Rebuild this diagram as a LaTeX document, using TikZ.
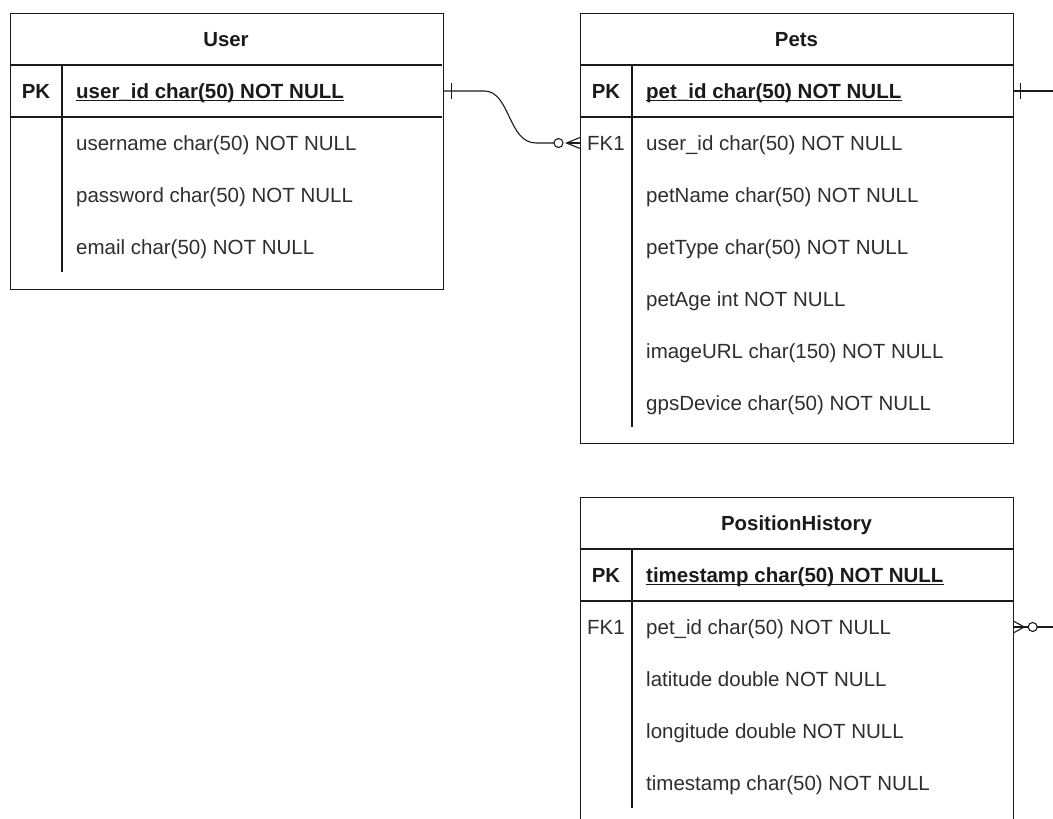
\documentclass[tikz,border=0pt]{standalone}
\usepackage{fontspec}
\setmainfont{Liberation Sans}
\usetikzlibrary{calc}
\definecolor{ink}{HTML}{1A1A1A}
\definecolor{soft}{HTML}{2E2E2E}
\begin{document}
\begin{tikzpicture}[x=1pt,y=-1pt,
  tablebox/.style={draw=ink, line width=1.2pt, anchor=north west, inner sep=0pt,
                   minimum width=433pt},
  rule/.style={draw=ink, line width=1.2pt},
  conn/.style={draw=ink, line width=1.1pt},
  txt/.style={inner sep=0pt, text height=14.7pt, text depth=0pt,
              font=\fontsize{20.5}{24}\selectfont},
  title/.style={txt, text=ink, font=\fontsize{20.4}{24}\selectfont\bfseries},
  keytxt/.style={txt, text=ink, font=\fontsize{20.4}{24}\selectfont\bfseries},
  fktxt/.style={txt, text=soft},
  pktxt/.style={txt, anchor=west, text=ink, font=\fontsize{20.5}{24}\selectfont\bfseries},
  fieldtxt/.style={txt, anchor=west, text=soft},
  uline/.style={draw=ink, line width=1.2pt}]

\clip (0,0) rectangle (1053,819);

% ---------------- User ----------------
\node[tablebox, minimum height=276pt] (user) at (10,13) {};
\draw[rule] (10,65) -- (442,65);
\draw[rule] (10,117) -- (442,117);
\draw[rule] (62,65) -- (62,272);
\node[title] (userT) at (226,39) {User};
\node[keytxt] (userK) at (36,91) {PK};
\node[pktxt] (upk) at (76,91) {user\_id char(50) NOT NULL};
\draw[uline] ([yshift=-2.2pt]upk.south west) -- ([yshift=-2.2pt]upk.south east);
\node[fieldtxt] (uf1) at (76,143) {username char(50) NOT NULL};
\node[fieldtxt] (uf2) at (76,195) {password char(50) NOT NULL};
\node[fieldtxt] (uf3) at (76,247) {email char(50) NOT NULL};

% ---------------- Pets ----------------
\node[tablebox, minimum height=430pt] (pets) at (580,13) {};
\draw[rule] (580,65) -- (1013,65);
\draw[rule] (580,117) -- (1013,117);
\draw[rule] (632,65) -- (632,427);
\node[title] (petsT) at (796.5,39) {Pets};
\node[keytxt] (petsK) at (606,91) {PK};
\node[fktxt] (petsF) at (606,143) {FK1};
\node[pktxt] (ppk) at (646,91) {pet\_id char(50) NOT NULL};
\draw[uline] ([yshift=-2.2pt]ppk.south west) -- ([yshift=-2.2pt]ppk.south east);
\node[fieldtxt] (pfk) at (646,143) {user\_id char(50) NOT NULL};
\node[fieldtxt] (pf2) at (646,195) {petName char(50) NOT NULL};
\node[fieldtxt] (pf3) at (646,247) {petType char(50) NOT NULL};
\node[fieldtxt] (pf4) at (646,299) {petAge int NOT NULL};
\node[fieldtxt] (pf5) at (646,351) {imageURL char(150) NOT NULL};
\node[fieldtxt] (pf6) at (646,403) {gpsDevice char(50) NOT NULL};

% ---------------- PositionHistory ----------------
\node[tablebox, minimum height=340pt] (hist) at (580,497) {};
\draw[rule] (580,549) -- (1013,549);
\draw[rule] (580,601) -- (1013,601);
\draw[rule] (632,549) -- (632,808);
\node[title] (histT) at (796.5,523) {PositionHistory};
\node[keytxt] (histK) at (606,575) {PK};
\node[fktxt] (histF) at (606,627) {FK1};
\node[pktxt] (hpk) at (646,575) {timestamp char(50) NOT NULL};
\draw[uline] ([yshift=-2.2pt]hpk.south west) -- ([yshift=-2.2pt]hpk.south east);
\node[fieldtxt] (hfk) at (646,627) {pet\_id char(50) NOT NULL};
\node[fieldtxt] (hf2) at (646,679) {latitude double NOT NULL};
\node[fieldtxt] (hf3) at (646,731) {longitude double NOT NULL};
\node[fieldtxt] (hf4) at (646,783) {timestamp char(50) NOT NULL};

% ---------------- User (one) to Pets (zero or many) ----------------
\coordinate (uEnd) at (user.east |- upk.west);
\coordinate (pEnd) at (pets.west |- pfk.west);
\draw[conn] (uEnd) -- ($(uEnd)+(40,0)$)
  .. controls ($(uEnd)+(66,0)$) and ($(pEnd)+(-72,0)$) .. ($(pEnd)+(-44,0)$)
  -- ($(pEnd)+(-25.8,0)$);
\draw[conn] ($(uEnd)+(7,-8)$) -- ($(uEnd)+(7,8)$);
\draw[conn, fill=white] ($(pEnd)+(-21.5,0)$) circle[radius=4.5pt];
\draw[conn] ($(pEnd)+(0,-5.5)$) -- ($(pEnd)+(-13.5,0)$) -- ($(pEnd)+(0,5.5)$);
\draw[conn] ($(pEnd)+(-13.5,0)$) -- (pEnd);

% ---------------- Pets (one) going off to the right ----------------
\coordinate (pOut) at ($(pets.east |- ppk.west)+(50,0)$);
\draw[conn] (pets.east |- ppk.west) -- (pOut);
\draw[conn] ($(pets.east |- ppk.west)+(6.5,-8)$) -- ($(pets.east |- ppk.west)+(6.5,8)$);

% ---------------- PositionHistory (zero or many) going off to the right ----------------
\coordinate (hEnd) at (hist.east |- hfk.west);
\coordinate (hOut) at ($(hEnd)+(50,0)$);
\draw[conn] ($(hEnd)+(0,-5.5)$) -- ($(hEnd)+(10,0)$) -- ($(hEnd)+(0,5.5)$);
\draw[conn] (hEnd) -- ($(hEnd)+(10,0)$) -- ($(hEnd)+(14,0)$);
\draw[conn, fill=white] ($(hEnd)+(18.5,0)$) circle[radius=4.5pt];
\draw[conn] ($(hEnd)+(23,0)$) -- (hOut);
\end{tikzpicture}
\end{document}
